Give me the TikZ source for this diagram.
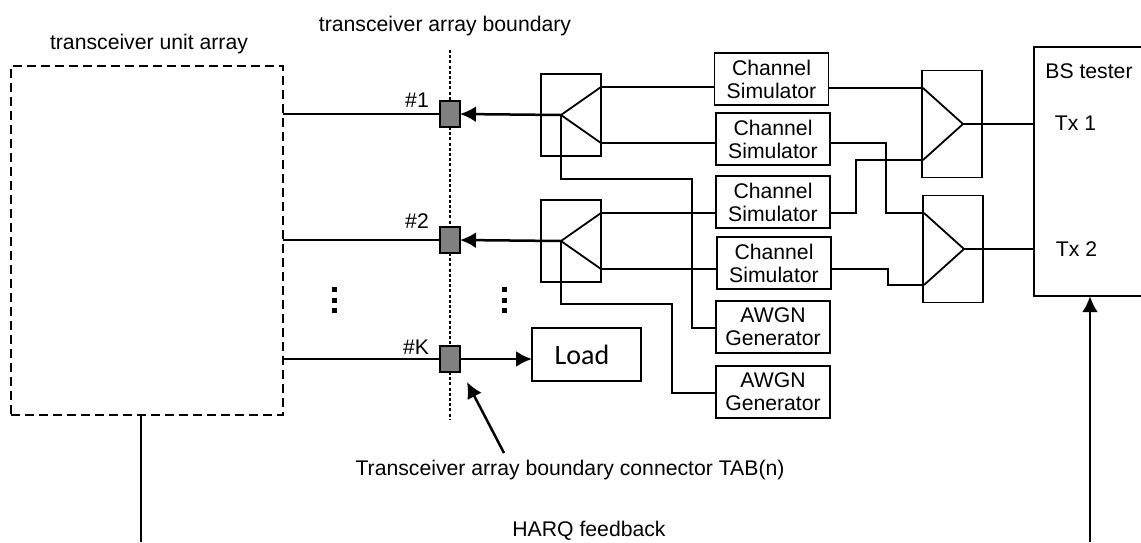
\documentclass[tikz,border=0pt]{standalone}
\usepackage{fontspec}
\setmainfont{Liberation Sans}
\newfontfamily\fonteCharge{Carlito}
\usetikzlibrary{arrows.meta}
\begin{document}
\begin{tikzpicture}[x=1pt,y=-1pt,font=\fontsize{21.2}{23}\selectfont]
% Styles
\tikzstyle{trait}=[line width=1.8pt]
\tikzstyle{pointille}=[line width=2.2pt,dash pattern=on 3pt off 2.2pt]
\tikzstyle{fleche}=[-{Latex[length=16pt,width=16pt]},line width=2.5pt]
\tikzstyle{boite}=[draw,line width=1.8pt,inner sep=0pt,outer sep=0pt,align=center]
\tikzstyle{canal}=[boite,minimum width=114pt,minimum height=52pt]
\tikzstyle{diviseur}=[boite,minimum width=60pt,minimum height=82pt]
\tikzstyle{combineur}=[boite,minimum width=60pt,minimum height=107pt]
\tikzstyle{connecteur}=[boite,fill=gray,minimum width=20pt,minimum height=26pt]
\tikzstyle{etiquette}=[inner sep=0pt]
\tikzstyle{point}=[fill=black,inner sep=0pt,minimum size=5pt]
\useasboundingbox (0,0) rectangle (1141,542);
% Noeuds
\node[boite,dashed,dash pattern=on 9pt off 5pt,minimum width=272pt,minimum height=349pt] (U) at (147,240.5) {};
\node[etiquette] (Ut) at (149,44) {transceiver unit array};
\node[etiquette] (Bt) at (445,26) {transceiver array boundary};
\coordinate (Bh) at (450,50);
\coordinate (Bb) at (450,420);
\node[connecteur] (Ta) at (450,114) {};
\node[connecteur] (Tb) at (450,240) {};
\node[connecteur] (Tk) at (450,359) {};
\node[etiquette] (Na) at (417,100) {\#1};
\node[etiquette] (Nb) at (417,221) {\#2};
\node[etiquette] (Nk) at (416,347) {\#K};
\node[boite,minimum width=109pt,minimum height=53pt,font=\fonteCharge\fontsize{28}{30}\selectfont] (L) at (586.5,354.5) {\raisebox{-2pt}{Load}\hspace*{9pt}};
\node[diviseur] (Da) at (571,115) {};
\node[diviseur] (Db) at (571,241) {};
\node[canal] (Ca) at (771.5,79) {Channel\\Simulator};
\node[canal] (Cb) at (773,139) {Channel\\Simulator};
\node[canal] (Cc) at (773,202) {Channel\\Simulator};
\node[canal] (Cd) at (774,263) {Channel\\Simulator};
\node[canal] (Ga) at (773,327) {AWGN\\Generator};
\node[canal] (Gb) at (773,392) {AWGN\\Generator};
\node[combineur] (Ma) at (952,124) {};
\node[combineur] (Mb) at (953,249) {};
\node[minimum width=107pt,minimum height=249pt,inner sep=0pt] (BS) at (1087.5,171.5) {};
\node[etiquette] (BSt) at (1089,71) {BS tester};
\node[etiquette] (Txa) at (1075.5,123) {Tx 1};
\node[etiquette] (Txb) at (1076.5,249) {Tx 2};
\node[etiquette] (Tab) at (570,470) {Transceiver array boundary connector TAB(n)};
\node[etiquette] (H) at (589,531) {HARQ feedback};
\coordinate (Ha) at (141,542);
\coordinate (Hb) at (1090,542);
\coordinate (Tf) at (467,382);
\foreach \x in {334,504} \foreach \y in {289,300,310}
  \node[point] (P\x-\y) at (\x,\y) {};
% Triangles
\coordinate (Das) at (561,115);
\coordinate (Dah) at (601,87);
\coordinate (Dab) at (601,143);
\coordinate (Dbs) at (561,241);
\coordinate (Dbh) at (601,213);
\coordinate (Dbb) at (601,269);
\coordinate (Mas) at (963,124);
\coordinate (Mah) at (923,88);
\coordinate (Mab) at (923,160);
\coordinate (Mbs) at (964,249);
\coordinate (Mbh) at (924,213);
\coordinate (Mbb) at (924,285);
\draw[trait] (Dah)--(Das)--(Dab);
\draw[trait] (Dbh)--(Dbs)--(Dbb);
\draw[trait] (Mah)--(Mas)--(Mab);
\draw[trait] (Mbh)--(Mbs)--(Mbb);
% Arcs
\draw[pointille] (Bh)--(Ta.north);
\draw[pointille] (Ta.south)--(Tb.north);
\draw[pointille] (Tb.south)--(Tk.north);
\draw[pointille] (Tk.south)--(Bb);
\draw[trait] (Ta.west-|U.east)--(Ta.west);
\draw[trait] (Tb.west-|U.east)--(Tb.west);
\draw[trait] (Tk.west-|U.east)--(Tk.west);
\draw[fleche] (Das)--(Ta.east);
\draw[fleche] (Dbs)--(Tb.east);
\draw[fleche] (Tk.east)--(L.west|-Tk.east);
\draw[trait] (Dah)--(Dah-|Ca.west);
\draw[trait] (Dab)--(Dab-|Cb.west);
\draw[trait] (Dbh)--(Dbh-|Cc.west);
\draw[trait] (Dbb)--(Dbb-|Cd.west);
\draw[trait] (Das)--(561,179)-|(692,328)--(692,328-|Ga.west);
\draw[trait] (Dbs)--(561,304)-|(672,393)--(672,393-|Gb.west);
\draw[trait] (Mah-|Ca.east)--(Mah);
\draw[trait] (Cb.east|-Dab)-|(886,213)--(Mbh);
\draw[trait] (Cc.east|-Dbh)-|(856,160)--(Mab);
\draw[trait] (Cd.east|-Dbb)-|(888,285)--(Mbb);
\draw[trait] (Mas)--(Mas-|BS.west);
\draw[trait] (Mbs)--(Mbs-|BS.west);
\draw[trait] (BS.north east)--(BS.north west)--(BS.south west)--(BS.south east);
\draw[trait] (U.south-|Ha)--(Ha);
\draw[fleche] (Hb)--(Hb|-BS.south);
\draw[fleche] (504,453)--(Tf);
\end{tikzpicture}
\end{document}
